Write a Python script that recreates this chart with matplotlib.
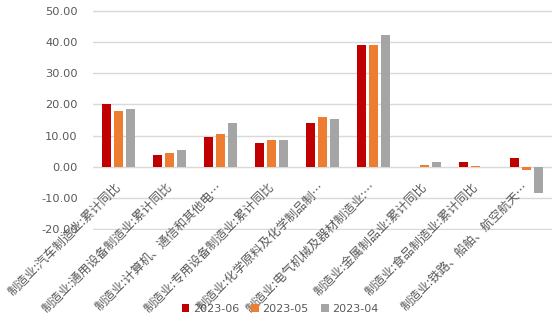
import matplotlib

matplotlib.use("Agg")
import matplotlib.pyplot as plt
import matplotlib.transforms as mtransforms
import numpy as np

plt.rcParams["font.family"] = ["Noto Sans CJK SC", "DejaVu Sans"]

CATEGORIES = [
    "制造业:汽车制造业:累计同比",
    "制造业:通用设备制造业:累计同比",
    "制造业:计算机、通信和其他电…",
    "制造业:专用设备制造业:累计同比",
    "制造业:化学原料及化学制品制…",
    "制造业:电气机械及器材制造业:…",
    "制造业:金属制品业:累计同比",
    "制造业:食品制造业:累计同比",
    "制造业:铁路、船舶、航空航天…",
]
SERIES = ["2023-06", "2023-05", "2023-04"]
V_2023_06 = [20.2, 3.9, 9.6, 7.7, 14.1, 39.1, 0.0, 1.6, 2.9]
V_2023_05 = [17.9, 4.5, 10.6, 8.7, 16.0, 39.1, 0.6, 0.3, -1.2]
V_2023_04 = [18.6, 5.4, 14.1, 8.6, 15.4, 42.3, 1.6, 0.0, -8.3]
Y_TICKS = [-20, -10, 0, 10, 20, 30, 40, 50]

COLORS = ["#C00000", "#ED7D31", "#A5A5A5"]
TEXT_GREY = "#595959"

fig = plt.figure(figsize=(5.54, 3.24), dpi=100)
ax = fig.add_axes([93 / 554, 1 - 230 / 324, 459 / 554, 220 / 324])

x = np.arange(len(CATEGORIES))
bar_w = 0.19
step = 0.235
for i, (name, vals, color) in enumerate(zip(SERIES, [V_2023_06, V_2023_05, V_2023_04], COLORS)):
    ax.bar(x + (i - 1) * step, vals, width=bar_w, color=color, label=name, zorder=3)

ax.set_xlim(-0.5, len(CATEGORIES) - 0.5)
ax.set_ylim(-20.3, 50.3)
ax.set_yticks(Y_TICKS)
ax.set_yticklabels([f"{v:.2f}" for v in Y_TICKS], fontsize=8.2, color=TEXT_GREY, family="DejaVu Sans")
ax.tick_params(axis="y", length=0, pad=11)
ax.yaxis.grid(True, color="#D9D9D9", linewidth=1, zorder=0)
ax.set_xticks([])
for s in ax.spines.values():
    s.set_visible(False)

# category labels hang from the zero line, like Excel does
offset = mtransforms.ScaledTranslation(0.5 / 72, -13 / 72, fig.dpi_scale_trans)
for xi, label in zip(x, CATEGORIES):
    ax.text(xi, 0, label, rotation=45, rotation_mode="anchor", ha="right", va="center",
            fontsize=8.8, color=TEXT_GREY, transform=ax.transData + offset, zorder=4)

fig.legend(loc="center", bbox_to_anchor=(280 / 554, 1 - 309 / 324), ncol=3, frameon=False,
           handlelength=0.7, handleheight=0.7, handletextpad=0.3, columnspacing=1.1,
           labelcolor=TEXT_GREY, prop={"family": "DejaVu Sans", "size": 8})

fig.savefig("out.png", dpi=100)
